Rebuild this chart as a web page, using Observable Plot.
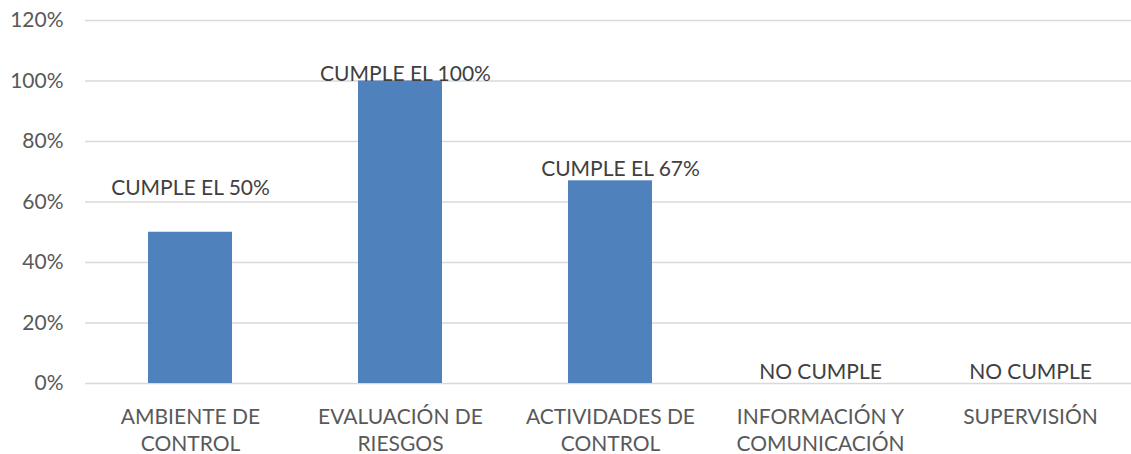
<!DOCTYPE html>
<html>
<head>
<meta charset="utf-8">
<script src="https://cdn.jsdelivr.net/npm/d3@7"></script>
<script src="https://cdn.jsdelivr.net/npm/@observablehq/plot@0.6"></script>
<style>
  html, body { margin: 0; padding: 0; background: #fff; overflow: hidden; }
  #chart svg { display: block; }
</style>
</head>
<body>
<div id="chart"></div>
<script>
// Data
const categories = ["AMBIENTE DE\nCONTROL", "EVALUACIÓN DE\nRIESGOS", "ACTIVIDADES DE\nCONTROL", "INFORMACIÓN Y\nCOMUNICACIÓN", "SUPERVISIÓN"];
const values = [0.50, 1.00, 0.67, 0, 0];
const labels = ["CUMPLE EL 50%", "CUMPLE EL 100%", "CUMPLE EL 67%", "NO CUMPLE", "NO CUMPLE"];
const labelAnchor = [0.622, 1.0, 0.685, 0.016, 0.016]; // where each label sits, in value units
const yTicks = [0, 0.2, 0.4, 0.6, 0.8, 1.0, 1.2];

// layout-only offsets (px)
const labelDx = [0, 5, 10, 0, 0];

const rows = categories.map((c, i) => ({cat: c, value: values[i], label: labels[i], ly: labelAnchor[i], i}));

const W = 1131, H = 454;
const font = "Lato, 'Open Sans', sans-serif";

const textMarks = rows.map(r => Plot.text([r], {
  x: "cat", y: "ly", text: "label", dx: labelDx[r.i],
  lineAnchor: "bottom", fill: "#404040", fontSize: 21
}));

const chart = Plot.plot({
  width: W,
  height: H,
  marginLeft: 85,
  marginRight: 0,
  marginTop: 20,
  marginBottom: 71,
  style: {fontFamily: font, background: "#fff", overflow: "visible"},
  x: {domain: categories, range: [85, 1135], paddingInner: 0.6, paddingOuter: 0.3, label: null},
  y: {domain: [0, 1.2], label: null},
  marks: [
    Plot.gridY(yTicks, {stroke: "#d9d9d9", strokeOpacity: 1, strokeWidth: 1.5}),
    Plot.axisY({ticks: yTicks, tickFormat: d => Math.round(d * 100) + "%", tickSize: 0, tickPadding: 22, fontSize: 21, fill: "#595959", label: null}),
    Plot.axisX({tickSize: 0, tickPadding: 21, fontSize: 21, fill: "#595959", lineHeight: 1.3, label: null, textAnchor: "middle"}),
    Plot.barY(rows, {x: "cat", y: "value", fill: "#4f81bd"}),
    ...textMarks
  ]
});

document.getElementById("chart").appendChild(chart);
</script>
</body>
</html>
